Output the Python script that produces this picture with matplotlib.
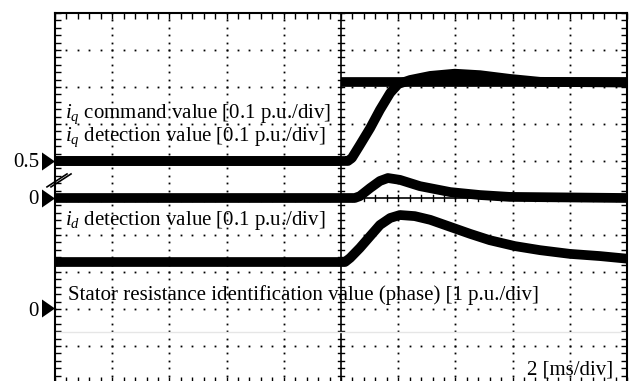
import numpy as np
import matplotlib
matplotlib.use("Agg")
from matplotlib import pyplot as plt
from matplotlib.ticker import MultipleLocator

plt.rcParams['font.family'] = ['Liberation Serif', 'DejaVu Serif']
plt.rcParams['mathtext.fontset'] = 'custom'
plt.rcParams['mathtext.rm'] = 'Liberation Serif'
plt.rcParams['mathtext.it'] = 'Liberation Serif:italic'

# scope screen in divisions: x 0..10 (2 ms/div), y 0..10
# iq command (step at 5 div)
iq_cmd_t = [0, 5.0, 5.0, 10]
iq_cmd_v = [6.0, 6.0, 8.13, 8.13]
# iq detection
iq_det_t = [0, 5.12, 5.19, 5.33, 5.51, 5.68, 5.86, 6.0, 6.21, 6.56, 6.99, 7.43, 7.95, 8.48, 10]
iq_det_v = [6.0, 6.0, 6.08, 6.43, 6.89, 7.38, 7.84, 8.08, 8.19, 8.30, 8.36, 8.32, 8.22, 8.14, 8.12]
# trace at 0 marker
zero_t = [0, 5.24, 5.33, 5.51, 5.68, 5.82, 6.03, 6.38, 6.91, 7.43, 7.95, 10]
zero_v = [5.0, 5.0, 5.05, 5.27, 5.46, 5.54, 5.49, 5.32, 5.16, 5.08, 5.03, 5.0]
# id detection
id_t = [0, 5.07, 5.16, 5.33, 5.51, 5.68, 5.86, 6.03, 6.29, 6.56, 6.91, 7.26, 7.6, 8.04, 8.48, 9.0, 9.53, 10]
id_v = [3.27, 3.27, 3.38, 3.65, 3.97, 4.27, 4.46, 4.54, 4.51, 4.41, 4.22, 4.03, 3.86, 3.70, 3.59, 3.49, 3.43, 3.36]
# stator resistance identification (faint)
rs_t = [0, 10]
rs_v = [1.38, 1.38]

marker_pos = [6.0, 5.0, 2.03]
marker_lab = ["0.5", "0", "0"]
marker_base = [5.84, 4.84, 1.81]

fig = plt.figure(figsize=(6.35, 3.81), dpi=100)
ax = fig.add_axes([55/635, 1 - 383/381, 572/635, 370/381])
ax.set_xlim(0, 10)
ax.set_ylim(0, 10)

# graticule dots
for gx in range(1, 10):
    if gx == 5:
        continue
    ys = np.arange(0, 10.01, 0.2)
    ax.plot([gx]*len(ys), ys, ls='none', marker='s', ms=1.3, color='k', mew=0)
for gy in range(1, 10):
    if gy == 5:
        continue
    xs = np.arange(0, 10.01, 0.2)
    ax.plot(xs, [gy]*len(xs), ls='none', marker='s', ms=1.3, color='k', mew=0)

# center cross with ticks
ax.axvline(5, color='k', lw=1.2)
ax.axhline(5, color='k', lw=1.2)
for t in np.arange(0, 10.01, 0.2):
    ax.plot([5 - 0.05, 5 + 0.05], [t, t], color='k', lw=1.0)
    ax.plot([t, t], [5 - 0.08, 5 + 0.08], color='k', lw=1.0)

ax.plot(rs_t, rs_v, color='#e6e6e6', lw=1.0)

tw = 7
ax.plot(id_t, id_v, color='k', lw=tw, solid_joinstyle='round')
ax.plot(zero_t, zero_v, color='k', lw=tw, solid_joinstyle='round')
ax.plot(iq_cmd_t[:2], iq_cmd_v[:2], color='k', lw=tw, solid_capstyle='butt')
ax.plot(iq_cmd_t[2:], iq_cmd_v[2:], color='k', lw=tw, solid_capstyle='butt')
ax.plot(iq_det_t, iq_det_v, color='k', lw=tw, solid_joinstyle='round', solid_capstyle='butt')

# frame ticks
ax.xaxis.set_major_locator(MultipleLocator(1))
ax.yaxis.set_major_locator(MultipleLocator(1))
ax.xaxis.set_minor_locator(MultipleLocator(0.2))
ax.yaxis.set_minor_locator(MultipleLocator(0.2))
ax.tick_params(which='both', direction='in', top=True, right=True,
               labelbottom=False, labelleft=False, length=4, width=1.0)
for s in ax.spines.values():
    s.set_linewidth(1.5)

fs = 15
ax.text(0.175, 7.16, r"$i_q$ command value [0.1 p.u./div]", fontsize=fs, va='baseline', ha='left')
ax.text(0.175, 6.54, r"$i_q$ detection value [0.1 p.u./div]", fontsize=fs, va='baseline', ha='left')
ax.text(0.175, 4.27, r"$i_d$ detection value [0.1 p.u./div]", fontsize=fs, va='baseline', ha='left')
ax.text(0.23, 2.24, "Stator resistance identification value (phase) [1 p.u./div]", fontsize=fs, va='baseline', ha='left')
ax.text(9.76, 0.22, "2 [ms/div]", fontsize=fs, va='baseline', ha='right')

# channel markers
tri = [(-0.36, -0.5), (0.36, 0.0), (-0.36, 0.5), (-0.36, -0.5)]
for yv, lab, yb in zip(marker_pos, marker_lab, marker_base):
    ax.plot([-0.114], [yv], marker=tri, ms=13, color='k', mew=0, clip_on=False)
    ax.text(-0.28, yb, lab, fontsize=fs, va='baseline', ha='right')

# break mark
for dx in (0.0, 0.07):
    ax.plot([-0.14 + dx, 0.21 + dx], [5.3, 5.65], color='k', lw=1.2, clip_on=False)

fig.savefig("out.png", dpi=100)
